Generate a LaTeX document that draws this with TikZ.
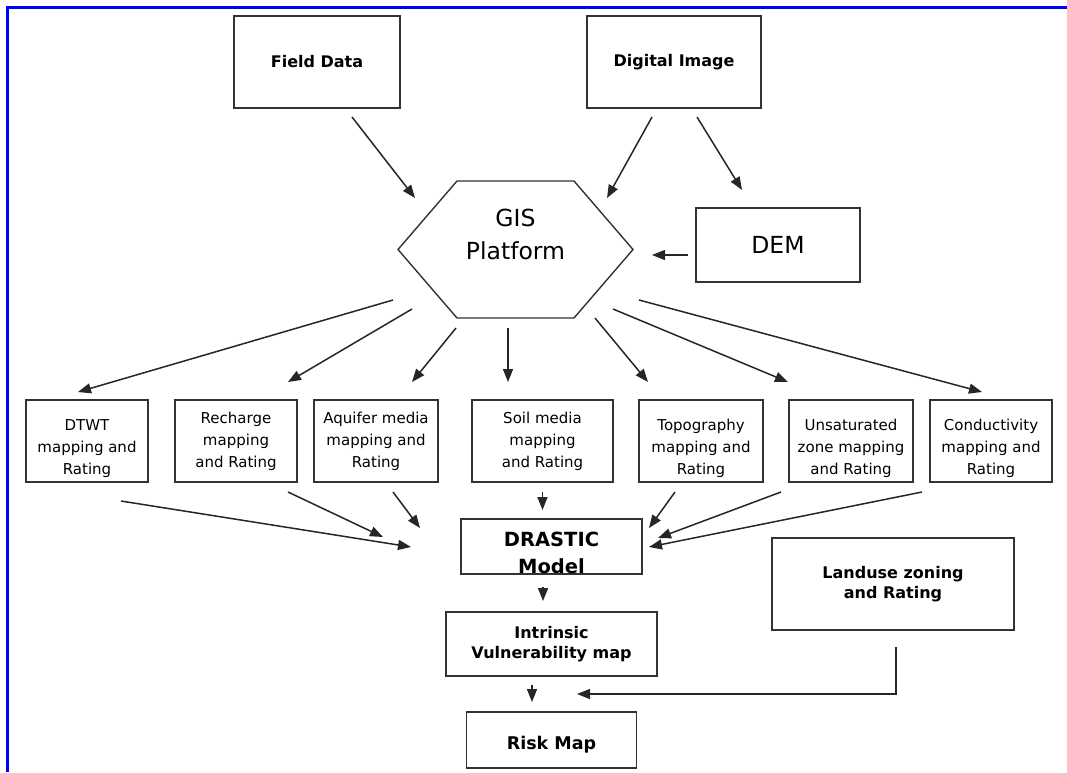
\documentclass[tikz,border=0pt]{standalone}
\usepackage{fontspec}
\setmainfont{DejaVu Sans}
\usepackage{tikz}
\usetikzlibrary{arrows.meta, positioning}
\tikzstyle{block}   = [rectangle, draw=black!80, line width=1.6pt, align=center,
                       inner sep=0pt, outer sep=0pt]
\tikzstyle{rblock}  = [block, minimum width=122pt, minimum height=82pt,
                       font=\fontsize{15}{22}\selectfont]
\tikzstyle{lowtext} = [text height=71pt]
\tikzstyle{bblock}  = [block, font=\bfseries\fontsize{16}{20}\selectfont]
\tikzstyle{arrow}   = [-{Triangle[length=13pt, width=10pt]}, line width=1.5pt,
                       draw=black!85]

\begin{document}
\begin{tikzpicture}[x=1pt, y=-1pt]
  \useasboundingbox (0,0) rectangle (1067,772);

  % page frame
  \draw[blue, line width=3pt] (7,772) -- (7,7) -- (1067,7);

  \node[bblock, minimum width=166pt, minimum height=92pt] (field) at (317,62)
    {Field Data};
  \node[bblock, minimum width=174pt, minimum height=92pt, right=187pt of field]
    (digital) {Digital Image};

  \coordinate (gis) at (515.5,249.5);
  \draw[draw=black!80, line width=1.4pt] (gis) ++(-117.5,0) -- ++(59,-68.5)
    -- ++(117,0) -- ++(59,68.5) -- ++(-59,68.5) -- ++(-117,0) -- cycle;
  \node[align=center, inner sep=0pt, font=\fontsize{23.5}{33}\selectfont]
    (gistext) at (515.5,234) {GIS\\Platform};

  \node[block, minimum width=164pt, minimum height=74pt,
        font=\fontsize{23.5}{28}\selectfont] (dem) at (778,245) {DEM};

  \node[rblock, lowtext] (dtwt) at (87,441) {DTWT\\mapping and\\Rating};
  \node[rblock, right=27pt of dtwt] (recharge) {Recharge\\mapping\\and Rating};
  \node[rblock, minimum width=124pt, right=17pt of recharge] (aquifer)
    {Aquifer media\\mapping and\\Rating};
  \node[rblock, minimum width=141pt, right=34pt of aquifer] (soil)
    {Soil media\\mapping\\and Rating};
  \node[rblock, lowtext, minimum width=124pt, right=26pt of soil] (topo)
    {Topography\\mapping and\\Rating};
  \node[rblock, lowtext, minimum width=124pt, right=26pt of topo] (unsat)
    {Unsaturated\\zone mapping\\and Rating};
  \node[rblock, lowtext, right=17pt of unsat] (cond)
    {Conductivity\\mapping and\\Rating};

  \node[bblock, minimum width=181pt, minimum height=55pt, text height=54pt,
        font=\bfseries\fontsize{19.5}{27}\selectfont] (drastic) at (551.5,546.5)
    {DRASTIC\\Model};
  \node[bblock, minimum width=211pt, minimum height=64pt, below=38pt of drastic]
    (intrinsic) {Intrinsic\\Vulnerability map};
  \node[bblock, minimum width=170pt, minimum height=56pt, below=36pt of intrinsic,
        text height=23pt, font=\bfseries\fontsize{17.5}{20}\selectfont] (risk)
    {Risk Map};
  \node[bblock, minimum width=242pt, minimum height=92pt] (landuse) at (893,584)
    {Landuse zoning\\and Rating};

  % inputs
  \draw[arrow] ([shift={(35,9)}]field.south) -- ([shift={(-100.5,-51.5)}]gis);
  \draw[arrow] ([shift={(-22,9)}]digital.south) -- ([shift={(91.5,-51.5)}]gis);
  \draw[arrow] ([shift={(23,9)}]digital.south) -- ([shift={(-36,-18)}]dem.north);
  \draw[arrow] ([shift={(-8,10)}]dem.west) -- ([shift={(136.5,5.5)}]gis);

  % GIS to the seven layers
  \draw[arrow] ([shift={(-122.5,50.5)}]gis) -- ([shift={(-9,-8)}]dtwt.north);
  \draw[arrow] ([shift={(-103.5,59.5)}]gis) -- ([shift={(52,-18)}]recharge.north);
  \draw[arrow] ([shift={(-59.5,78.5)}]gis) -- ([shift={(36,-18)}]aquifer.north);
  \draw[arrow] ([shift={(-7.5,78.5)}]gis) -- ([shift={(-34.5,-18)}]soil.north);
  \draw[arrow] ([shift={(79.5,68.5)}]gis) -- ([shift={(-53,-18)}]topo.north);
  \draw[arrow] ([shift={(97.5,59.5)}]gis) -- ([shift={(-63,-18)}]unsat.north);
  \draw[arrow] ([shift={(123.5,50.5)}]gis) -- ([shift={(-9,-8)}]cond.north);

  % layers to DRASTIC
  \draw[arrow] ([shift={(34,19)}]dtwt.south) -- ([shift={(-50,0.5)}]drastic.west);
  \draw[arrow] ([shift={(52,10)}]recharge.south) -- ([shift={(-78,-9.5)}]drastic.west);
  \draw[arrow] ([shift={(17,10)}]aquifer.south) -- ([shift={(-41,-18.5)}]drastic.west);
  \draw[arrow] ([shift={(0,10)}]soil.south) -- ([shift={(-9,-9)}]drastic.north);
  \draw[arrow] ([shift={(-26,10)}]topo.south) -- ([shift={(7,-18.5)}]drastic.east);
  \draw[arrow] ([shift={(-70,10)}]unsat.south) -- ([shift={(16,-8.5)}]drastic.east);
  \draw[arrow] ([shift={(-69,10)}]cond.south) -- ([shift={(7,0.5)}]drastic.east);

  % outputs
  \draw[arrow] ([shift={(-8.5,13)}]drastic.south) -- ([shift={(-8.5,-11)}]intrinsic.north);
  \draw[arrow] ([shift={(-19.5,9)}]intrinsic.south) -- ([shift={(-19.5,-10)}]risk.north);
  \draw[arrow] ([shift={(3,17)}]landuse.south) |- ([shift={(25.5,-18)}]risk.north);
\end{tikzpicture}
\end{document}
